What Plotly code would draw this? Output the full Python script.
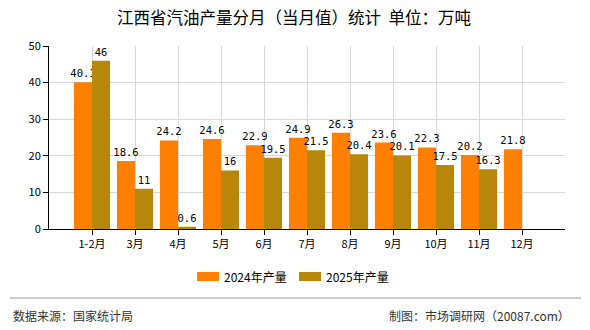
import plotly.graph_objects as go

categories = ["1-2月", "3月", "4月", "5月", "6月", "7月", "8月", "9月", "10月", "11月", "12月"]
values_2024 = [40.1, 18.6, 24.2, 24.6, 22.9, 24.9, 26.3, 23.6, 22.3, 20.2, 21.8]
values_2025 = [46, 11, 0.6, 16, 19.5, 21.5, 20.4, 20.1, 17.5, 16.3, None]
labels_2024 = ["40.1", "18.6", "24.2", "24.6", "22.9", "24.9", "26.3", "23.6", "22.3", "20.2", "21.8"]
labels_2025 = ["46", "11", "0.6", "16", "19.5", "21.5", "20.4", "20.1", "17.5", "16.3", ""]
series_names = ["2024年产量", "2025年产量"]
series_colors = ["#FF8000", "#B8860B"]
y_ticks = [0, 10, 20, 30, 40, 50]

font_main = "Noto Sans CJK SC, sans-serif"
label_font = dict(size=10.5, color="#000000", family="DejaVu Sans Mono, monospace")

# plot area geometry (px)
L, R, T, B = 49, 25, 46, 101
PW = 590 - L - R
PH = 330 - T - B


def px_x(x):
    return (x - L) / PW


def px_y(y):
    return (330 - B - y) / PH


fig = go.Figure()
for name, vals, labs, col in [(series_names[0], values_2024, labels_2024, series_colors[0]),
                              (series_names[1], values_2025, labels_2025, series_colors[1])]:
    fig.add_trace(go.Bar(
        name=name, x=categories, y=vals, text=labs,
        textposition="outside", cliponaxis=False,
        marker=dict(color=col, line=dict(width=0)),
        textfont=label_font,
    ))

fig.update_layout(
    width=590, height=330,
    margin=dict(l=L, r=R, t=T, b=B),
    paper_bgcolor="#FFFFFF", plot_bgcolor="#FFFFFF",
    barmode="group", bargap=0.16, bargroupgap=0,
    uniformtext=dict(minsize=10.5, mode="show"),
    font=dict(family=font_main, size=11, color="#000000"),
    showlegend=False,
    xaxis=dict(
        type="category", range=[-1, 11], showline=True, linecolor="#000000", linewidth=1,
        ticks="outside", ticklen=5, tickcolor="#000000",
        showgrid=True, gridcolor="#D9D9D9", gridwidth=1,
        tickfont=dict(size=11, family=font_main),
    ),
    yaxis=dict(
        range=[0, 50], tickvals=y_ticks, showline=True, linecolor="#000000", linewidth=1,
        ticks="outside", ticklen=5, tickcolor="#000000",
        showgrid=True, gridcolor="#D9D9D9", gridwidth=1, zeroline=False,
        tickfont=dict(size=11, family=font_main),
    ),
)

# title
fig.add_annotation(text="江西省汽油产量分月（当月值）统计&nbsp;&nbsp;单位：万吨", xref="paper", yref="paper",
                   x=px_x(294), y=px_y(17), xanchor="center", yanchor="middle", showarrow=False,
                   font=dict(size=16.5, color="#000000", family=font_main))

# manual legend with wide rectangular swatches
legend_items = [(197, series_names[0], series_colors[0]), (299, series_names[1], series_colors[1])]
for x0, name, col in legend_items:
    fig.add_shape(type="rect", xref="paper", yref="paper",
                  x0=px_x(x0), x1=px_x(x0 + 22), y0=px_y(272), y1=px_y(281),
                  fillcolor=col, line=dict(width=0))
    fig.add_annotation(text=name, xref="paper", yref="paper",
                       x=px_x(x0 + 25), y=px_y(276.5), xanchor="left", yanchor="middle",
                       showarrow=False, font=dict(size=12, family=font_main, color="#000000"))

# footer
fig.add_shape(type="line", xref="paper", yref="paper", x0=px_x(10), x1=px_x(581),
              y0=px_y(298), y1=px_y(298), line=dict(color="#999999", width=1))
fig.add_annotation(text="数据来源：国家统计局", xref="paper", yref="paper",
                   x=px_x(11), y=px_y(315), xanchor="left", yanchor="middle",
                   showarrow=False, font=dict(size=12, family=font_main, color="#333333"))
fig.add_annotation(text="制图：市场调研网（20087.com）", xref="paper", yref="paper",
                   x=px_x(572), y=px_y(315), xanchor="right", yanchor="middle",
                   showarrow=False, font=dict(size=12, family=font_main, color="#333333"))

fig.write_html("out.html")
